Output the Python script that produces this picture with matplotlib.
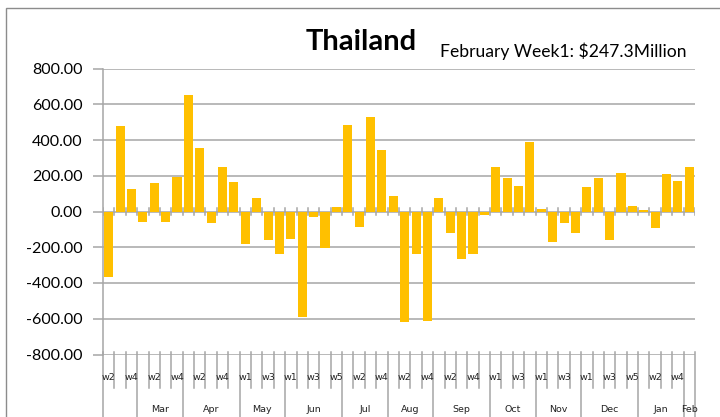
import matplotlib
matplotlib.use("Agg")
import matplotlib.pyplot as plt
from matplotlib.patches import Rectangle
import matplotlib.transforms as mtransforms
import numpy as np

# ---- data ----
month_names = ["", "Mar", "Apr", "May", "Jun", "Jul", "Aug", "Sep", "Oct", "Nov", "Dec", "Jan", "Feb"]
month_weeks = [
    ["w2", "w3", "w4"],
    ["w1", "w2", "w3", "w4"],
    ["w1", "w2", "w3", "w4", "w5"],
    ["w1", "w2", "w3", "w4"],
    ["w1", "w2", "w3", "w4", "w5"],
    ["w1", "w2", "w3", "w4"],
    ["w1", "w2", "w3", "w4"],
    ["w1", "w2", "w3", "w4", "w5"],
    ["w1", "w2", "w3", "w4"],
    ["w1", "w2", "w3", "w4"],
    ["w1", "w2", "w3", "w4", "w5"],
    ["w1", "w2", "w3", "w4"],
    ["w1"],
]
values = [-368, 477, 127, -58, 157, -58, 194, 652, 357, -65, 247, 164,
          -183, 77, -161, -235, -153, -591, -33, -206, 24, 482, -88, 529,
          344, 84, -620, -235, -613, 77, -118, -265, -235, -21, 247, 187,
          144, 387, 15, -168, -65, -118, 136, 187, -161, 217, 32, 9,
          -95, 209, 172, 247.3]
y_ticks = [-800, -600, -400, -200, 0, 200, 400, 600, 800]
title = "Thailand"
subtitle = "February Week1: $247.3Million"

W, H = 720, 417
fig = plt.figure(figsize=(W / 100, H / 100), dpi=100)
fig.patch.set_facecolor("white")

def fx(px):
    return px / W

def fy(py):
    return 1 - py / H

left, right, top, bottom = 103, 695, 68.5, 354.5
ax = fig.add_axes([fx(left), fy(bottom), fx(right) - fx(left), fy(top) - fy(bottom)])

week_labels = [w for grp in month_weeks for w in grp]
n = len(values)
x = np.arange(n)
grid_c = "#a6a6a6"

ax.set_xlim(-0.5, n - 0.5)
ax.set_ylim(y_ticks[0], y_ticks[-1])
ax.set_yticks(y_ticks)
ax.set_yticklabels([f"{v:.2f}" for v in y_ticks], fontsize=11.5, family="Lato")
ax.tick_params(axis="y", direction="out", length=7, width=1.1, color=grid_c, pad=7.5)
ax.set_xticks([])
for yv in y_ticks:
    ax.axhline(yv, color=grid_c, lw=1.1, zorder=1)
for s in ["top", "right", "bottom"]:
    ax.spines[s].set_visible(False)
ax.spines["left"].set_color(grid_c)
ax.spines["left"].set_linewidth(1.1)

ax.bar(x, values, width=0.8, color="#FFC000", zorder=3)

# ticks at category boundaries on zero line
for b in range(n + 1):
    ax.plot([b - 0.5, b - 0.5], [-18, 18], color=grid_c, lw=1.1, zorder=2)

# multi-level category axis
trans = mtransforms.blended_transform_factory(ax.transData, fig.transFigure)
starts = np.cumsum([0] + [len(g) for g in month_weeks])
month_bounds = set(starts.tolist())
for b in range(n + 1):
    xb = b - 0.5
    if b in month_bounds:
        y0, y1 = fy(352), fy(H + 5)
    else:
        y0, y1 = fy(352), fy(388)
    fig.add_artist(plt.Line2D([xb, xb], [y0, y1], transform=trans, color=grid_c, lw=1.1, clip_on=False))

for i, lab in enumerate(week_labels):
    if i % 2 == 0 and i < n - 1:
        fig.text(i, fy(378), lab, transform=trans, ha="center", va="center",
                 fontsize=6.8, color="#222222")

for k, m in enumerate(month_names):
    if m:
        c = (starts[k] + starts[k + 1] - 1) / 2
        fig.text(c, fy(410), m, transform=trans, ha="center", va="center",
                 fontsize=6.8, color="#222222")

# outer border
fig.add_artist(Rectangle((fx(6), -0.2), 1.2, fy(8) + 0.2, transform=fig.transFigure,
                         fill=False, edgecolor="#8c8c8c", lw=1.0, clip_on=False))

fig.text(fx(306), fy(50), title, fontsize=21, fontweight="bold", family="Lato",
         ha="left", va="baseline")
fig.text(fx(440), fy(57), subtitle, fontsize=12.6, family="Lato", ha="left", va="baseline")

fig.savefig("out.png", dpi=100, facecolor="white")
